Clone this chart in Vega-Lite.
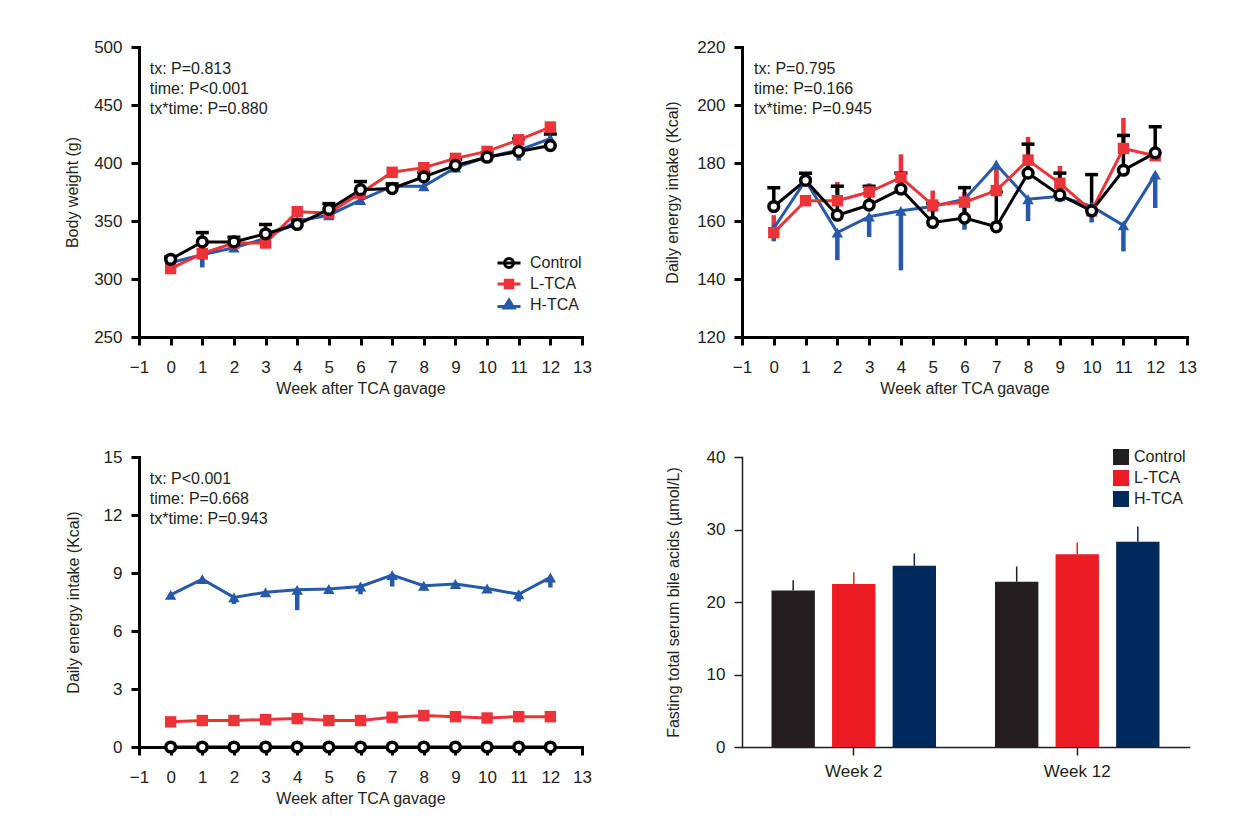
{
  "$schema": "https://vega.github.io/schema/vega-lite/v6.json",
  "padding": {"left": 64, "top": 38, "right": 5, "bottom": 5},
  "background": "white",
  "bounds": "flush",
  "columns": 2,
  "spacing": {"row": 120, "column": 160},
  "resolve": {"scale": {"color": "independent", "fill": "independent", "stroke": "independent", "shape": "independent"}},
  "datasets": {
    "bw": [
      {"week": 0, "group": "H-TCA", "mean": 314, "bar_end": 312},
      {"week": 1, "group": "H-TCA", "mean": 321, "bar_end": 310},
      {"week": 2, "group": "H-TCA", "mean": 327, "bar_end": 325},
      {"week": 3, "group": "H-TCA", "mean": 335, "bar_end": 333},
      {"week": 4, "group": "H-TCA", "mean": 350, "bar_end": 348},
      {"week": 5, "group": "H-TCA", "mean": 355, "bar_end": 352},
      {"week": 6, "group": "H-TCA", "mean": 368, "bar_end": 364},
      {"week": 7, "group": "H-TCA", "mean": 380, "bar_end": 378},
      {"week": 8, "group": "H-TCA", "mean": 380, "bar_end": 377},
      {"week": 9, "group": "H-TCA", "mean": 396, "bar_end": 392},
      {"week": 10, "group": "H-TCA", "mean": 405, "bar_end": 403},
      {"week": 11, "group": "H-TCA", "mean": 411, "bar_end": 402},
      {"week": 12, "group": "H-TCA", "mean": 421, "bar_end": 418},
      {"week": 0, "group": "L-TCA", "mean": 309, "bar_end": 311},
      {"week": 1, "group": "L-TCA", "mean": 322, "bar_end": 324},
      {"week": 2, "group": "L-TCA", "mean": 331, "bar_end": 334},
      {"week": 3, "group": "L-TCA", "mean": 331, "bar_end": 333},
      {"week": 4, "group": "L-TCA", "mean": 358, "bar_end": 363},
      {"week": 5, "group": "L-TCA", "mean": 357, "bar_end": 360},
      {"week": 6, "group": "L-TCA", "mean": 374, "bar_end": 377},
      {"week": 7, "group": "L-TCA", "mean": 392, "bar_end": 395},
      {"week": 8, "group": "L-TCA", "mean": 396, "bar_end": 399},
      {"week": 9, "group": "L-TCA", "mean": 404, "bar_end": 407},
      {"week": 10, "group": "L-TCA", "mean": 410, "bar_end": 412},
      {"week": 11, "group": "L-TCA", "mean": 420, "bar_end": 423},
      {"week": 12, "group": "L-TCA", "mean": 431, "bar_end": 434},
      {"week": 0, "group": "Control", "mean": 317, "bar_end": 319},
      {"week": 1, "group": "Control", "mean": 332, "bar_end": 340},
      {"week": 2, "group": "Control", "mean": 332, "bar_end": 336},
      {"week": 3, "group": "Control", "mean": 339, "bar_end": 347},
      {"week": 4, "group": "Control", "mean": 347, "bar_end": 351},
      {"week": 5, "group": "Control", "mean": 360, "bar_end": 365},
      {"week": 6, "group": "Control", "mean": 377, "bar_end": 384},
      {"week": 7, "group": "Control", "mean": 378, "bar_end": 382},
      {"week": 8, "group": "Control", "mean": 388, "bar_end": 392},
      {"week": 9, "group": "Control", "mean": 398, "bar_end": 403},
      {"week": 10, "group": "Control", "mean": 405, "bar_end": 409},
      {"week": 11, "group": "Control", "mean": 410, "bar_end": 421},
      {"week": 12, "group": "Control", "mean": 415, "bar_end": 425}
    ],
    "ei": [
      {"week": 0, "group": "H-TCA", "mean": 157.5, "bar_end": 153},
      {"week": 1, "group": "H-TCA", "mean": 174, "bar_end": 172},
      {"week": 2, "group": "H-TCA", "mean": 156, "bar_end": 146.5},
      {"week": 3, "group": "H-TCA", "mean": 161.5, "bar_end": 154.5},
      {"week": 4, "group": "H-TCA", "mean": 163.5, "bar_end": 143},
      {"week": 5, "group": "H-TCA", "mean": 165, "bar_end": 163},
      {"week": 6, "group": "H-TCA", "mean": 167.5, "bar_end": 157},
      {"week": 7, "group": "H-TCA", "mean": 179.5, "bar_end": 172},
      {"week": 8, "group": "H-TCA", "mean": 167.5, "bar_end": 160},
      {"week": 9, "group": "H-TCA", "mean": 168.5, "bar_end": 166.5},
      {"week": 10, "group": "H-TCA", "mean": 165, "bar_end": 159.5},
      {"week": 11, "group": "H-TCA", "mean": 158.5, "bar_end": 149.5},
      {"week": 12, "group": "H-TCA", "mean": 176, "bar_end": 164.5},
      {"week": 0, "group": "L-TCA", "mean": 156, "bar_end": 162},
      {"week": 1, "group": "L-TCA", "mean": 167, "bar_end": 169},
      {"week": 2, "group": "L-TCA", "mean": 167, "bar_end": 173.5},
      {"week": 3, "group": "L-TCA", "mean": 170, "bar_end": 173},
      {"week": 4, "group": "L-TCA", "mean": 175, "bar_end": 183},
      {"week": 5, "group": "L-TCA", "mean": 165.5, "bar_end": 170.5},
      {"week": 6, "group": "L-TCA", "mean": 166.5, "bar_end": 170},
      {"week": 7, "group": "L-TCA", "mean": 170.5, "bar_end": 179},
      {"week": 8, "group": "L-TCA", "mean": 181, "bar_end": 189},
      {"week": 9, "group": "L-TCA", "mean": 173, "bar_end": 179},
      {"week": 10, "group": "L-TCA", "mean": 163.5, "bar_end": 165},
      {"week": 11, "group": "L-TCA", "mean": 185, "bar_end": 195.5},
      {"week": 12, "group": "L-TCA", "mean": 182.5, "bar_end": 184},
      {"week": 0, "group": "Control", "mean": 165, "bar_end": 171.5},
      {"week": 1, "group": "Control", "mean": 174, "bar_end": 176.5},
      {"week": 2, "group": "Control", "mean": 162, "bar_end": 172},
      {"week": 3, "group": "Control", "mean": 165.5, "bar_end": 172},
      {"week": 4, "group": "Control", "mean": 171, "bar_end": 176.5},
      {"week": 5, "group": "Control", "mean": 159.5, "bar_end": 166},
      {"week": 6, "group": "Control", "mean": 161, "bar_end": 171.5},
      {"week": 7, "group": "Control", "mean": 158, "bar_end": 170},
      {"week": 8, "group": "Control", "mean": 176.5, "bar_end": 186.5},
      {"week": 9, "group": "Control", "mean": 169, "bar_end": 176.5},
      {"week": 10, "group": "Control", "mean": 163.5, "bar_end": 176},
      {"week": 11, "group": "Control", "mean": 177.5, "bar_end": 189.5},
      {"week": 12, "group": "Control", "mean": 183.5, "bar_end": 192.5}
    ],
    "tca": [
      {"week": 0, "group": "H-TCA", "mean": 7.87, "bar_end": 7.8},
      {"week": 1, "group": "H-TCA", "mean": 8.68, "bar_end": 8.6},
      {"week": 2, "group": "H-TCA", "mean": 7.74, "bar_end": 7.4},
      {"week": 3, "group": "H-TCA", "mean": 8.0, "bar_end": 7.9},
      {"week": 4, "group": "H-TCA", "mean": 8.13, "bar_end": 7.08},
      {"week": 5, "group": "H-TCA", "mean": 8.17, "bar_end": 8.1},
      {"week": 6, "group": "H-TCA", "mean": 8.3, "bar_end": 7.9},
      {"week": 7, "group": "H-TCA", "mean": 8.89, "bar_end": 8.3},
      {"week": 8, "group": "H-TCA", "mean": 8.34, "bar_end": 8.25},
      {"week": 9, "group": "H-TCA", "mean": 8.43, "bar_end": 8.35},
      {"week": 10, "group": "H-TCA", "mean": 8.2, "bar_end": 8.1},
      {"week": 11, "group": "H-TCA", "mean": 7.9, "bar_end": 7.53},
      {"week": 12, "group": "H-TCA", "mean": 8.77, "bar_end": 8.25},
      {"week": 0, "group": "L-TCA", "mean": 1.3, "bar_end": 1.33},
      {"week": 1, "group": "L-TCA", "mean": 1.37, "bar_end": 1.4},
      {"week": 2, "group": "L-TCA", "mean": 1.37, "bar_end": 1.4},
      {"week": 3, "group": "L-TCA", "mean": 1.42, "bar_end": 1.45},
      {"week": 4, "group": "L-TCA", "mean": 1.47, "bar_end": 1.5},
      {"week": 5, "group": "L-TCA", "mean": 1.37, "bar_end": 1.4},
      {"week": 6, "group": "L-TCA", "mean": 1.37, "bar_end": 1.4},
      {"week": 7, "group": "L-TCA", "mean": 1.54, "bar_end": 1.57},
      {"week": 8, "group": "L-TCA", "mean": 1.63, "bar_end": 1.66},
      {"week": 9, "group": "L-TCA", "mean": 1.57, "bar_end": 1.6},
      {"week": 10, "group": "L-TCA", "mean": 1.5, "bar_end": 1.53},
      {"week": 11, "group": "L-TCA", "mean": 1.57, "bar_end": 1.6},
      {"week": 12, "group": "L-TCA", "mean": 1.57, "bar_end": 1.6},
      {"week": 0, "group": "Control", "mean": 0, "bar_end": 0},
      {"week": 1, "group": "Control", "mean": 0, "bar_end": 0},
      {"week": 2, "group": "Control", "mean": 0, "bar_end": 0},
      {"week": 3, "group": "Control", "mean": 0, "bar_end": 0},
      {"week": 4, "group": "Control", "mean": 0, "bar_end": 0},
      {"week": 5, "group": "Control", "mean": 0, "bar_end": 0},
      {"week": 6, "group": "Control", "mean": 0, "bar_end": 0},
      {"week": 7, "group": "Control", "mean": 0, "bar_end": 0},
      {"week": 8, "group": "Control", "mean": 0, "bar_end": 0},
      {"week": 9, "group": "Control", "mean": 0, "bar_end": 0},
      {"week": 10, "group": "Control", "mean": 0, "bar_end": 0},
      {"week": 11, "group": "Control", "mean": 0, "bar_end": 0},
      {"week": 12, "group": "Control", "mean": 0, "bar_end": 0}
    ],
    "bile": [
      {"week": "Week 2", "group": "Control", "mean": 21.6, "bar_end": 23.0},
      {"week": "Week 2", "group": "L-TCA", "mean": 22.5, "bar_end": 24.1},
      {"week": "Week 2", "group": "H-TCA", "mean": 25.0, "bar_end": 26.7},
      {"week": "Week 12", "group": "Control", "mean": 22.8, "bar_end": 24.9},
      {"week": "Week 12", "group": "L-TCA", "mean": 26.6, "bar_end": 28.2},
      {"week": "Week 12", "group": "H-TCA", "mean": 28.3, "bar_end": 30.4}
    ]
  },
  "concat": [
    {
      "width": 443, "height": 290,
      "data": {"name": "bw"},
      "encoding": {
        "x": {"field": "week", "type": "quantitative", "title": "Week after TCA gavage", "scale": {"domain": [-1, 13], "nice": false, "zero": false}, "axis": {"values": [-1, 0, 1, 2, 3, 4, 5, 6, 7, 8, 9, 10, 11, 12, 13], "format": "d", "labelFlush": false, "labelOverlap": false, "labelPadding": 14, "titlePadding": 5}},
        "y": {"field": "mean", "type": "quantitative", "title": "Body weight (g)", "scale": {"domain": [250, 500], "nice": false, "zero": false}, "axis": {"values": [250, 300, 350, 400, 450, 500], "labelPadding": 9, "titlePadding": 13}}
      },
      "layer": [
        {"transform": [{"filter": "datum.group !== 'Control'"}], "mark": {"type": "rule", "strokeWidth": 4.5}, "encoding": {"y2": {"field": "bar_end"}, "color": {"field": "group", "type": "nominal", "scale": {"domain": ["H-TCA", "L-TCA", "Control"], "range": ["#2659a9", "#ee3338", "#000000"]}, "legend": null}}},
        {"transform": [{"filter": "datum.group === 'Control'"}], "mark": {"type": "rule", "strokeWidth": 3.5, "color": "#000000"}, "encoding": {"y2": {"field": "bar_end"}}},
        {"transform": [{"filter": "datum.group === 'Control'"}], "mark": {"type": "tick", "orient": "horizontal", "color": "#000000", "thickness": 3.5, "size": 13, "opacity": 1}, "encoding": {"y": {"field": "bar_end", "type": "quantitative", "title": "Body weight (g)"}}},
        {"mark": {"type": "line", "strokeWidth": 3}, "encoding": {"color": {"field": "group", "type": "nominal", "scale": {"domain": ["H-TCA", "L-TCA", "Control"], "range": ["#2659a9", "#ee3338", "#000000"]}, "legend": null}}},
        {"transform": [{"filter": "datum.group === 'H-TCA'"}], "mark": {"type": "point", "shape": "triangle-up", "filled": true, "size": 130, "color": "#2659a9", "opacity": 1}},
        {"transform": [{"filter": "datum.group === 'L-TCA'"}], "mark": {"type": "point", "shape": "square", "filled": true, "size": 130, "color": "#ee3338", "opacity": 1}},
        {"transform": [{"filter": "datum.group === 'Control'"}], "mark": {"type": "point", "shape": "circle", "filled": true, "size": 95, "fill": "#ffffff", "stroke": "#000000", "strokeWidth": 3.5, "opacity": 1}},
        {"transform": [{"filter": "datum.week === 0 && datum.group === 'Control'"}], "mark": {"type": "text", "align": "left", "baseline": "alphabetic", "lineHeight": 20, "fontSize": 16, "color": "#231f20", "text": ["tx: P=0.813", "time: P<0.001", "tx*time: P=0.880"]}, "encoding": {"x": {"datum": -0.66}, "y": {"datum": 476.5}}},
        {
          "transform": [{"filter": "datum.week > 100"}],
          "mark": {"type": "point", "filled": true, "size": 100, "strokeWidth": 3, "opacity": 1},
          "encoding": {
            "shape": {"field": "group", "type": "nominal", "scale": {"domain": ["Control", "L-TCA", "H-TCA"], "range": ["M-2.3,0H2.3M0.9,0A0.9,0.9,0,1,1,-0.9,0A0.9,0.9,0,1,1,0.9,0Z", "M-2.3,0H2.3M-0.75,-0.75H0.75V0.75H-0.75Z", "M-2.3,0.3H2.3M0,-1.0L1.0,0.6H-1.0Z"]}, "legend": {"title": null, "orient": "none", "legendX": 362, "legendY": 208, "symbolSize": 100, "symbolStrokeWidth": 3, "labelFontSize": 16, "labelOffset": 13, "rowPadding": 0, "padding": 0}},
            "fill": {"field": "group", "type": "nominal", "scale": {"domain": ["Control", "L-TCA", "H-TCA"], "range": ["#ffffff", "#ee3338", "#2659a9"]}, "legend": {"title": null, "orient": "none", "legendX": 362, "legendY": 208, "symbolSize": 100, "symbolStrokeWidth": 3, "labelFontSize": 16, "labelOffset": 13, "rowPadding": 0, "padding": 0}},
            "stroke": {"field": "group", "type": "nominal", "scale": {"domain": ["Control", "L-TCA", "H-TCA"], "range": ["#000000", "#ee3338", "#2659a9"]}, "legend": {"title": null, "orient": "none", "legendX": 362, "legendY": 208, "symbolSize": 100, "symbolStrokeWidth": 3, "labelFontSize": 16, "labelOffset": 13, "rowPadding": 0, "padding": 0}}
          }
        }
      ]
    },
    {
      "width": 445, "height": 290,
      "data": {"name": "ei"},
      "encoding": {
        "x": {"field": "week", "type": "quantitative", "title": "Week after TCA gavage", "scale": {"domain": [-1, 13], "nice": false, "zero": false}, "axis": {"values": [-1, 0, 1, 2, 3, 4, 5, 6, 7, 8, 9, 10, 11, 12, 13], "format": "d", "labelFlush": false, "labelOverlap": false, "labelPadding": 14, "titlePadding": 5}},
        "y": {"field": "mean", "type": "quantitative", "title": "Daily energy intake (Kcal)", "scale": {"domain": [120, 220], "nice": false, "zero": false}, "axis": {"values": [120, 140, 160, 180, 200, 220], "labelPadding": 9, "titlePadding": 16}}
      },
      "layer": [
        {"transform": [{"filter": "datum.group !== 'Control'"}], "mark": {"type": "rule", "strokeWidth": 4.5}, "encoding": {"y2": {"field": "bar_end"}, "color": {"field": "group", "type": "nominal", "scale": {"domain": ["H-TCA", "L-TCA", "Control"], "range": ["#2659a9", "#ee3338", "#000000"]}, "legend": null}}},
        {"transform": [{"filter": "datum.group === 'Control'"}], "mark": {"type": "rule", "strokeWidth": 3.5, "color": "#000000"}, "encoding": {"y2": {"field": "bar_end"}}},
        {"transform": [{"filter": "datum.group === 'Control'"}], "mark": {"type": "tick", "orient": "horizontal", "color": "#000000", "thickness": 3.5, "size": 13, "opacity": 1}, "encoding": {"y": {"field": "bar_end", "type": "quantitative", "title": "Daily energy intake (Kcal)"}}},
        {"mark": {"type": "line", "strokeWidth": 3}, "encoding": {"color": {"field": "group", "type": "nominal", "scale": {"domain": ["H-TCA", "L-TCA", "Control"], "range": ["#2659a9", "#ee3338", "#000000"]}, "legend": null}}},
        {"transform": [{"filter": "datum.group === 'H-TCA'"}], "mark": {"type": "point", "shape": "triangle-up", "filled": true, "size": 130, "color": "#2659a9", "opacity": 1}},
        {"transform": [{"filter": "datum.group === 'L-TCA'"}], "mark": {"type": "point", "shape": "square", "filled": true, "size": 130, "color": "#ee3338", "opacity": 1}},
        {"transform": [{"filter": "datum.group === 'Control'"}], "mark": {"type": "point", "shape": "circle", "filled": true, "size": 95, "fill": "#ffffff", "stroke": "#000000", "strokeWidth": 3.5, "opacity": 1}},
        {"transform": [{"filter": "datum.week === 0 && datum.group === 'Control'"}], "mark": {"type": "text", "align": "left", "baseline": "alphabetic", "lineHeight": 20, "fontSize": 16, "color": "#231f20", "text": ["tx: P=0.795", "time: P=0.166", "tx*time: P=0.945"]}, "encoding": {"x": {"datum": -0.62}, "y": {"datum": 210.8}}}
      ]
    },
    {
      "width": 443, "height": 290,
      "data": {"name": "tca"},
      "encoding": {
        "x": {"field": "week", "type": "quantitative", "title": "Week after TCA gavage", "scale": {"domain": [-1, 13], "nice": false, "zero": false}, "axis": {"values": [-1, 0, 1, 2, 3, 4, 5, 6, 7, 8, 9, 10, 11, 12, 13], "format": "d", "labelFlush": false, "labelOverlap": false, "labelPadding": 14, "titlePadding": 5}},
        "y": {"field": "mean", "type": "quantitative", "title": "Daily energy intake (Kcal)", "scale": {"domain": [0, 15], "nice": false, "zero": false}, "axis": {"values": [0, 3, 6, 9, 12, 15], "labelPadding": 9, "titlePadding": 22}}
      },
      "layer": [
        {"transform": [{"filter": "datum.group !== 'Control'"}], "mark": {"type": "rule", "strokeWidth": 4.5}, "encoding": {"y2": {"field": "bar_end"}, "color": {"field": "group", "type": "nominal", "scale": {"domain": ["H-TCA", "L-TCA", "Control"], "range": ["#2659a9", "#ee3338", "#000000"]}, "legend": null}}},
        {"mark": {"type": "line", "strokeWidth": 3}, "encoding": {"color": {"field": "group", "type": "nominal", "scale": {"domain": ["H-TCA", "L-TCA", "Control"], "range": ["#2659a9", "#ee3338", "#000000"]}, "legend": null}}},
        {"transform": [{"filter": "datum.group === 'H-TCA'"}], "mark": {"type": "point", "shape": "triangle-up", "filled": true, "size": 130, "color": "#2659a9", "opacity": 1}},
        {"transform": [{"filter": "datum.group === 'L-TCA'"}], "mark": {"type": "point", "shape": "square", "filled": true, "size": 130, "color": "#ee3338", "opacity": 1}},
        {"transform": [{"filter": "datum.group === 'Control'"}], "mark": {"type": "point", "shape": "circle", "filled": true, "size": 95, "fill": "#ffffff", "stroke": "#000000", "strokeWidth": 3.5, "opacity": 1}},
        {"transform": [{"filter": "datum.week === 0 && datum.group === 'Control'"}], "mark": {"type": "text", "align": "left", "baseline": "alphabetic", "lineHeight": 20, "fontSize": 16, "color": "#231f20", "text": ["tx: P<0.001", "time: P=0.668", "tx*time: P=0.943"]}, "encoding": {"x": {"datum": -0.66}, "y": {"datum": 13.6}}}
      ]
    },
    {
      "width": 447, "height": 290,
      "data": {"name": "bile"},
      "encoding": {
        "x": {"field": "week", "type": "nominal", "sort": ["Week 2", "Week 12"], "title": null, "scale": {"paddingInner": 0.264, "paddingOuter": 0.132}, "axis": {"labelAngle": 0, "bandPosition": 0.5, "domainWidth": 1.5, "tickWidth": 1.5, "domainColor": "#231f20", "tickColor": "#231f20", "labelPadding": 8}},
        "xOffset": {"field": "group", "type": "nominal", "sort": ["Control", "L-TCA", "H-TCA"], "scale": {"paddingInner": 0.284, "paddingOuter": 0}},
        "y": {"field": "mean", "type": "quantitative", "title": "Fasting total serum bile acids (µmol/L)", "scale": {"domain": [0, 40], "nice": false}, "axis": {"values": [0, 10, 20, 30, 40], "labelPadding": 9, "titlePadding": 25, "domainWidth": 1.5, "tickWidth": 1.5, "domainColor": "#231f20", "tickColor": "#231f20"}}
      },
      "layer": [
        {"mark": {"type": "bar"}, "encoding": {"color": {"field": "group", "type": "nominal", "sort": ["Control", "L-TCA", "H-TCA"], "scale": {"domain": ["Control", "L-TCA", "H-TCA"], "range": ["#231f20", "#ed1c24", "#002a5c"]}, "legend": {"title": null, "orient": "none", "legendX": 371, "legendY": -8, "symbolType": "square", "symbolSize": 256, "symbolStrokeWidth": 0, "labelFontSize": 16, "labelOffset": 5, "rowPadding": 5, "padding": 0}}}},
        {"mark": {"type": "rule", "strokeWidth": 1.5}, "encoding": {"y2": {"field": "bar_end"}, "stroke": {"field": "group", "type": "nominal", "scale": {"domain": ["Control", "L-TCA", "H-TCA"], "range": ["#231f20", "#ed1c24", "#002a5c"]}, "legend": null}}}
      ]
    }
  ],
  "config": {
    "font": "Liberation Sans, Arial, sans-serif",
    "view": {"stroke": null},
    "axis": {"grid": false, "domainColor": "#000000", "domainWidth": 3, "domainCap": "square", "tickColor": "#000000", "tickWidth": 3, "tickSize": 8, "labelFont": "Liberation Sans, Arial, sans-serif", "labelFontSize": 17, "labelColor": "#231f20", "labelPadding": 4, "titleFont": "Liberation Sans, Arial, sans-serif", "titleFontSize": 16, "titleFontWeight": "normal", "titleColor": "#231f20"},
    "legend": {"labelFont": "Liberation Sans, Arial, sans-serif", "labelFontSize": 16, "labelColor": "#231f20"},
    "text": {"font": "Liberation Sans, Arial, sans-serif"}
  }
}
